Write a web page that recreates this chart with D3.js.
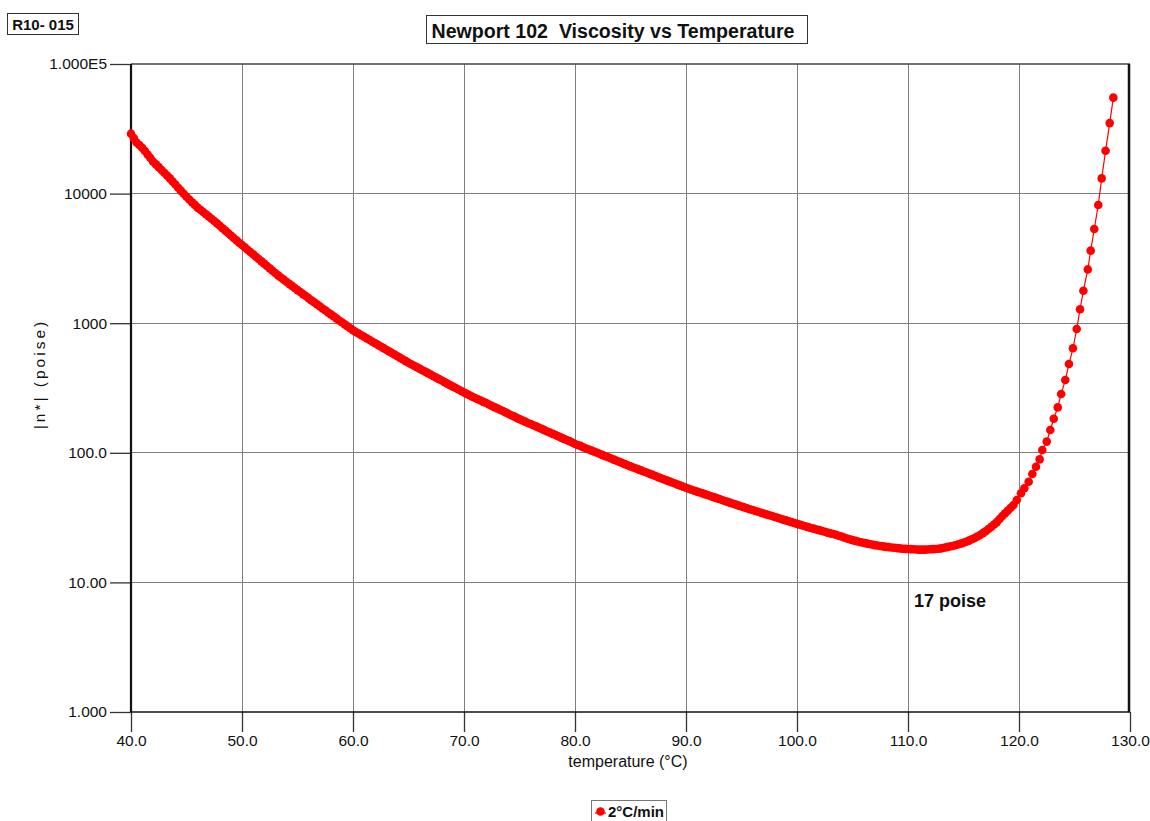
<!DOCTYPE html>
<html>
<head>
<meta charset="utf-8">
<script src="https://cdn.jsdelivr.net/npm/d3@7/dist/d3.min.js"></script>
<style>
  html, body { margin: 0; padding: 0; background: #fff; }
  svg { display: block; font-family: Arial, "Liberation Sans", sans-serif; }
  text { white-space: pre; }
</style>
</head>
<body>
<svg id="chart" width="1150" height="821"></svg>
<script>
// ---- data ----
const temperature = [
  40.0, 40.25, 40.5, 40.75, 41.0, 41.25, 41.5, 41.75,
  42.0, 42.25, 42.5, 42.75, 43.0, 43.25, 43.5, 43.75,
  44.0, 44.25, 44.5, 44.75, 45.0, 45.25, 45.5, 45.75,
  46.0, 46.25, 46.5, 46.75, 47.0, 47.25, 47.5, 47.75,
  48.0, 48.25, 48.5, 48.75, 49.0, 49.25, 49.5, 49.75,
  50.0, 50.25, 50.5, 50.75, 51.0, 51.25, 51.5, 51.75,
  52.0, 52.25, 52.5, 52.75, 53.0, 53.25, 53.5, 53.75,
  54.0, 54.25, 54.5, 54.75, 55.0, 55.25, 55.5, 55.75,
  56.0, 56.25, 56.5, 56.75, 57.0, 57.25, 57.5, 57.75,
  58.0, 58.25, 58.5, 58.75, 59.0, 59.25, 59.5, 59.75,
  60.0, 60.25, 60.5, 60.75, 61.0, 61.25, 61.5, 61.75,
  62.0, 62.25, 62.5, 62.75, 63.0, 63.25, 63.5, 63.75,
  64.0, 64.25, 64.5, 64.75, 65.0, 65.25, 65.5, 65.75,
  66.0, 66.25, 66.5, 66.75, 67.0, 67.25, 67.5, 67.75,
  68.0, 68.25, 68.5, 68.75, 69.0, 69.25, 69.5, 69.75,
  70.0, 70.25, 70.5, 70.75, 71.0, 71.25, 71.5, 71.75,
  72.0, 72.25, 72.5, 72.75, 73.0, 73.25, 73.5, 73.75,
  74.0, 74.25, 74.5, 74.75, 75.0, 75.25, 75.5, 75.75,
  76.0, 76.25, 76.5, 76.75, 77.0, 77.25, 77.5, 77.75,
  78.0, 78.25, 78.5, 78.75, 79.0, 79.25, 79.5, 79.75,
  80.0, 80.25, 80.5, 80.75, 81.0, 81.25, 81.5, 81.75,
  82.0, 82.25, 82.5, 82.75, 83.0, 83.25, 83.5, 83.75,
  84.0, 84.25, 84.5, 84.75, 85.0, 85.25, 85.5, 85.75,
  86.0, 86.25, 86.5, 86.75, 87.0, 87.25, 87.5, 87.75,
  88.0, 88.25, 88.5, 88.75, 89.0, 89.25, 89.5, 89.75,
  90.0, 90.25, 90.5, 90.75, 91.0, 91.25, 91.5, 91.75,
  92.0, 92.25, 92.5, 92.75, 93.0, 93.25, 93.5, 93.75,
  94.0, 94.25, 94.5, 94.75, 95.0, 95.25, 95.5, 95.75,
  96.0, 96.25, 96.5, 96.75, 97.0, 97.25, 97.5, 97.75,
  98.0, 98.25, 98.5, 98.75, 99.0, 99.25, 99.5, 99.75,
  100.0, 100.25, 100.5, 100.75, 101.0, 101.25, 101.5, 101.75,
  102.0, 102.25, 102.5, 102.75, 103.0, 103.25, 103.5, 103.75,
  104.0, 104.25, 104.5, 104.75, 105.0, 105.25, 105.5, 105.75,
  106.0, 106.25, 106.5, 106.75, 107.0, 107.25, 107.5, 107.75,
  108.0, 108.25, 108.5, 108.75, 109.0, 109.25, 109.5, 109.75,
  110.0, 110.25, 110.5, 110.75, 111.0, 111.25, 111.5, 111.75,
  112.0, 112.25, 112.5, 112.75, 113.0, 113.25, 113.5, 113.75,
  114.0, 114.25, 114.5, 114.75, 115.0, 115.25, 115.5, 115.75,
  116.0, 116.25, 116.5, 116.75, 117.0, 117.25, 117.5, 117.75,
  118.0, 118.25, 118.5, 118.75, 119.0, 119.25,
  119.5, 119.8, 120.18, 120.48, 120.87, 121.2, 121.53, 121.86, 122.1, 122.5,
  122.82, 123.13, 123.49, 123.8, 124.17, 124.5, 124.86, 125.2, 125.5, 125.8,
  126.2, 126.46, 126.78, 127.14, 127.45, 127.8, 128.17, 128.5
];
const viscosity = [
  29000, 26800, 24800, 23700, 22600, 21300, 20000, 18800,
  17600, 16800, 16000, 15200, 14500, 13800, 13100, 12400,
  11750, 11100, 10500, 9970, 9460, 9000, 8570, 8180,
  7800, 7500, 7210, 6920, 6650, 6400, 6150, 5890,
  5640, 5400, 5180, 4960, 4750, 4550, 4365, 4180,
  4010, 3850, 3690, 3540, 3400, 3260, 3130, 3000,
  2880, 2760, 2650, 2540, 2440, 2340, 2250, 2170,
  2090, 2010, 1940, 1870, 1800, 1740, 1675, 1620,
  1560, 1500, 1450, 1400, 1350, 1300, 1260, 1210,
  1170, 1130, 1090, 1050, 1016, 980, 946, 913,
  881, 856, 832, 808, 785, 763, 741, 720,
  700, 680, 661, 642, 624, 606, 589, 572,
  556, 540, 525, 510, 495, 482, 470, 458,
  446, 434, 423, 412, 401, 390, 380, 370,
  361, 351, 342, 333, 324, 316, 308, 300,
  292, 285, 278, 271, 265, 259, 253, 247,
  242, 236, 230, 225, 220, 215, 210, 205,
  200, 195, 191, 186, 182, 178, 174, 170,
  167, 163, 160, 156, 153, 149.5, 146, 143,
  140, 137, 134, 131, 128, 125.5, 123, 120,
  117, 115, 113, 110.5, 108, 106, 104, 102,
  100, 98.0, 96.0, 94.1, 92.3, 90.4, 88.6, 86.8,
  85.1, 83.4, 81.8, 80.1, 78.5, 77.0, 75.6, 74.2,
  72.8, 71.4, 70.1, 68.8, 67.5, 66.2, 64.9, 63.7,
  62.5, 61.3, 60.2, 59.0, 57.9, 56.8, 55.8, 54.7,
  53.7, 52.8, 51.9, 51.0, 50.2, 49.4, 48.6, 47.8,
  47.0, 46.2, 45.5, 44.7, 44.0, 43.2, 42.5, 41.8,
  41.1, 40.4, 39.8, 39.1, 38.5, 37.9, 37.3, 36.7,
  36.2, 35.6, 35.1, 34.5, 34.0, 33.5, 33.0, 32.5,
  32.0, 31.5, 31.0, 30.5, 30.1, 29.6, 29.2, 28.7,
  28.3, 27.9, 27.5, 27.1, 26.7, 26.3, 26.0, 25.6,
  25.3, 24.9, 24.6, 24.2, 23.9, 23.6, 23.3, 22.9,
  22.6, 22.2, 21.8, 21.5, 21.2, 20.9, 20.7, 20.4,
  20.2, 20.0, 19.8, 19.6, 19.4, 19.25, 19.1, 18.95,
  18.8, 18.7, 18.6, 18.5, 18.4, 18.3, 18.2, 18.15,
  18.1, 18.05, 18.0, 17.95, 17.9, 17.9, 17.9, 17.95,
  18.0, 18.05, 18.1, 18.2, 18.3, 18.5, 18.7, 18.9,
  19.1, 19.35, 19.6, 19.9, 20.2, 20.6, 21.0, 21.5,
  22.0, 22.6, 23.2, 24.0, 24.8, 25.8, 26.8, 28.0,
  29.2, 30.8, 32.5, 34.2, 35.9, 37.7,
  39.6, 43.2, 48.7, 53.2, 59.8, 68.6, 78, 89, 105, 122,
  150, 183, 224, 284, 365, 484, 640, 902, 1280, 1780,
  2600, 3630, 5330, 8170, 13100, 21400, 35000, 55000
];
const xTicks = [40, 50, 60, 70, 80, 90, 100, 110, 120, 130];
const xTickLabels = ["40.0", "50.0", "60.0", "70.0", "80.0", "90.0", "100.0", "110.0", "120.0", "130.0"];
const yTicks = [1, 10, 100, 1000, 10000, 100000];
const yTickLabels = ["1.000", "10.00", "100.0", "1000", "10000", "1.000E5"];
const seriesName = "2°C/min";
const chartTitle = "Newport 102  Viscosity vs Temperature";
const chartId = "R10- 015";
const xTitle = "temperature (°C)";
const yTitle = "|n*| (poise)";
const annotationText = "17 poise";

// ---- layout ----
const svg = d3.select("#chart");
const L = 131, R = 1130, T = 64, B = 712;
const x = d3.scaleLinear().domain([40, 130]).range([L, R]);
const y = d3.scaleLog().domain([1, 100000]).range([B, T]);
const FONT = "Arial, 'Liberation Sans', sans-serif";

// gridlines
const grid = svg.append("g");
grid.selectAll("line.v").data(xTicks.slice(1, -1)).enter().append("line")
  .attr("x1", d => x(d)).attr("x2", d => x(d)).attr("y1", T).attr("y2", B)
  .attr("stroke", "#808080").attr("stroke-width", 1).attr("shape-rendering", "crispEdges");
grid.selectAll("line.h").data(yTicks.slice(1, -1)).enter().append("line")
  .attr("x1", L).attr("x2", R).attr("y1", d => y(d)).attr("y2", d => y(d))
  .attr("stroke", "#808080").attr("stroke-width", 1).attr("shape-rendering", "crispEdges");

// axes
const xAxis = d3.axisBottom(x).tickValues(xTicks)
  .tickFormat((d, i) => xTickLabels[i]).tickSize(20).tickPadding(3);
const gx = svg.append("g").attr("transform", `translate(0,${B})`).call(xAxis);
gx.select(".domain").remove();
gx.selectAll(".tick line").attr("stroke", "#333").attr("stroke-width", 1.3);
gx.selectAll(".tick text").attr("font-size", 15.5).attr("fill", "#111").attr("font-family", FONT);

const yAxis = d3.axisLeft(y).tickValues(yTicks)
  .tickFormat((d, i) => yTickLabels[i]).tickSize(21).tickPadding(3);
const gy = svg.append("g").attr("transform", `translate(${L},0)`).call(yAxis);
gy.select(".domain").remove();
gy.selectAll(".tick line").attr("stroke", "#333").attr("stroke-width", 1.3);
gy.selectAll(".tick text").attr("font-size", 15.5).attr("fill", "#111").attr("font-family", FONT);

// frame
svg.append("line").attr("x1", L).attr("x2", R).attr("y1", T).attr("y2", T)
  .attr("stroke", "#444").attr("stroke-width", 1.3);
svg.append("line").attr("x1", L).attr("x2", R).attr("y1", B).attr("y2", B)
  .attr("stroke", "#111").attr("stroke-width", 1.6);
svg.append("line").attr("x1", L).attr("x2", L).attr("y1", T).attr("y2", B)
  .attr("stroke", "#111").attr("stroke-width", 2.2);
svg.append("line").attr("x1", R - 1).attr("x2", R - 1).attr("y1", T).attr("y2", B)
  .attr("stroke", "#111").attr("stroke-width", 2.5);

// series
const pts = temperature.map((t, i) => ({ t, v: viscosity[i] }));
svg.append("path").datum(pts)
  .attr("d", d3.line().x(d => x(d.t)).y(d => y(d.v)))
  .attr("fill", "none").attr("stroke", "#ff0000").attr("stroke-width", 1.2);
svg.append("g").selectAll("circle").data(pts).enter().append("circle")
  .attr("cx", d => x(d.t)).attr("cy", d => y(d.v)).attr("r", 4.3)
  .attr("fill", "#ff0000");

// annotation
svg.append("text").attr("x", 914).attr("y", 607)
  .attr("font-size", 18).attr("font-weight", "bold").attr("fill", "#111")
  .text(annotationText);

// axis titles
svg.append("text").attr("x", 628).attr("y", 767).attr("text-anchor", "middle")
  .attr("font-size", 16).attr("fill", "#111").text(xTitle);
svg.append("text").attr("transform", "translate(45,374) rotate(-90)")
  .attr("text-anchor", "middle").attr("font-size", 15.5).attr("letter-spacing", 3)
  .attr("fill", "#111").text(yTitle);

// chart id box
svg.append("rect").attr("x", 7.5).attr("y", 13.5).attr("width", 71).attr("height", 21)
  .attr("fill", "#fff").attr("stroke", "#333").attr("stroke-width", 1);
svg.append("text").attr("x", 43).attr("y", 29.5).attr("text-anchor", "middle")
  .attr("font-size", 15).attr("font-weight", "bold").attr("fill", "#111").text(chartId);

// title box
svg.append("rect").attr("x", 426.5).attr("y", 15.5).attr("width", 381).attr("height", 28)
  .attr("fill", "#fff").attr("stroke", "#333").attr("stroke-width", 1);
svg.append("text").attr("x", 613).attr("y", 37.5).attr("text-anchor", "middle")
  .attr("font-size", 19.6).attr("font-weight", "bold").attr("fill", "#111").text(chartTitle);

// legend
const lg = svg.append("g");
lg.append("rect").attr("x", 591.5).attr("y", 800.5).attr("width", 75).attr("height", 30)
  .attr("fill", "#fff").attr("stroke", "#777").attr("stroke-width", 1);
lg.append("line").attr("x1", 595).attr("x2", 606).attr("y1", 813).attr("y2", 813)
  .attr("stroke", "#ff0000").attr("stroke-width", 1.2);
lg.append("circle").attr("cx", 600.5).attr("cy", 811.5).attr("r", 4.3).attr("fill", "#ff0000");
lg.append("text").attr("x", 608).attr("y", 817).attr("font-size", 15)
  .attr("font-weight", "bold").attr("fill", "#111").text(seriesName);
</script>
</body>
</html>
